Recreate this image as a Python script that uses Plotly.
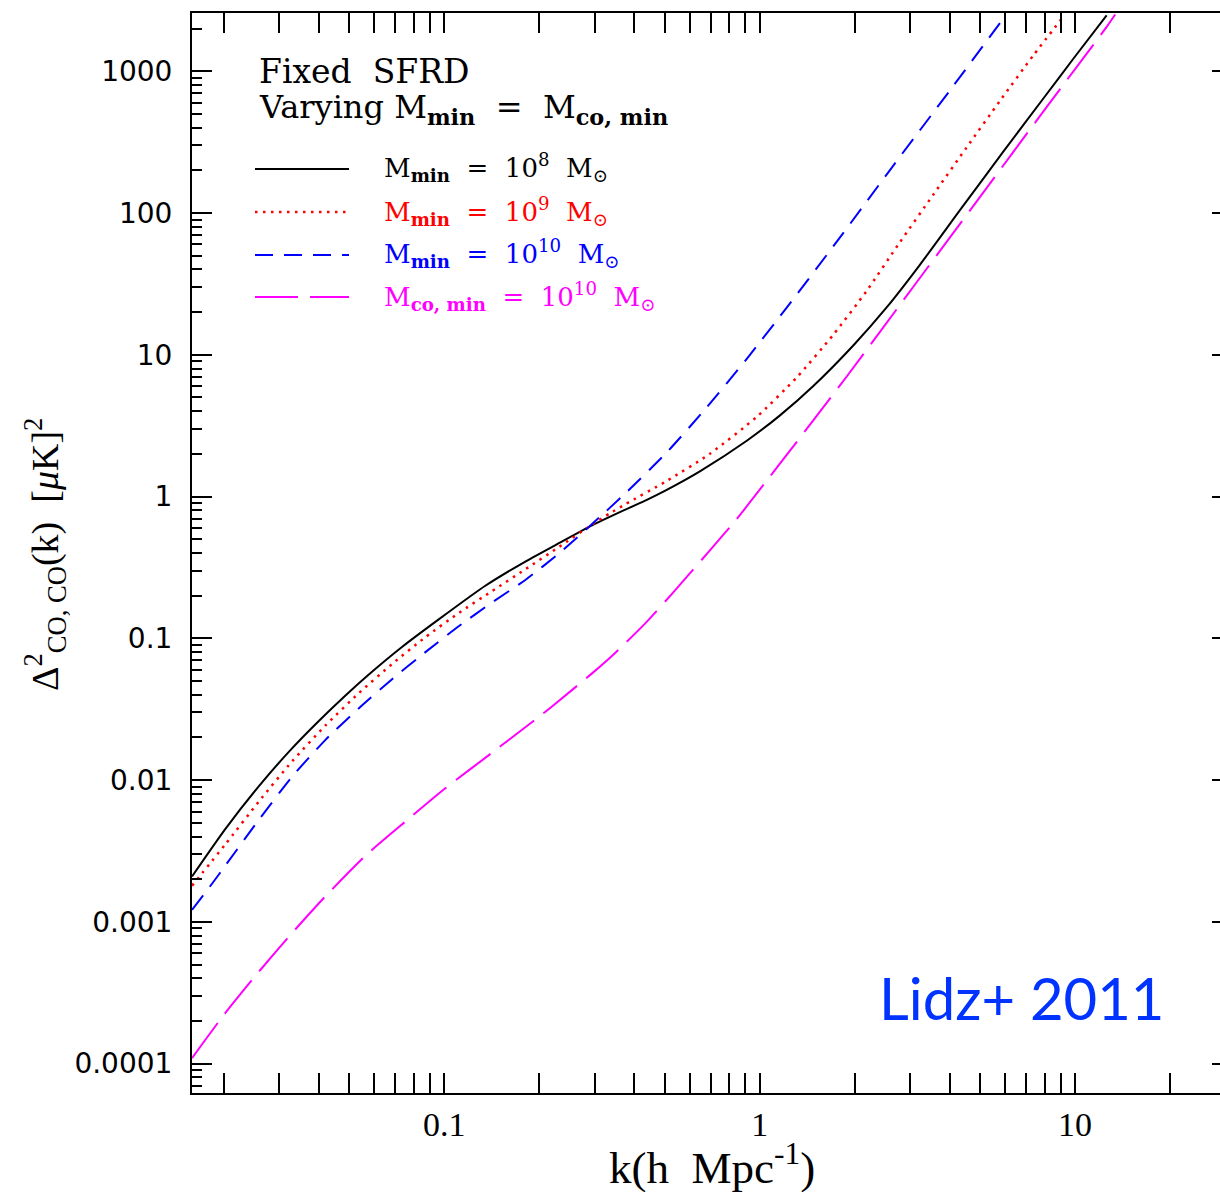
import plotly.graph_objects as go

# CO power spectrum, fixed SFRD, varying minimum host-halo mass
k_m8 = [0.01585, 0.0202, 0.0258, 0.0324, 0.0400, 0.0485, 0.0575, 0.0734, 0.0960, 0.1349,
        0.1807, 0.2307, 0.294, 0.375, 0.4385, 0.502, 0.646, 0.910, 1.157, 1.479, 1.98,
        2.53, 3.22, 4.32, 5.92, 7.93, 9.87, 12.59]
p_m8 = [0.00209, 0.00451, 0.00904, 0.01614, 0.02612, 0.03936, 0.05534, 0.0869, 0.1361, 0.2350,
        0.3483, 0.4688, 0.6266, 0.8091, 0.9484, 1.102, 1.507, 2.477, 3.724, 6.026, 11.64,
        21.68, 43.15, 105.2, 271.0, 642.7, 1225, 2483]

k_m9 = [0.01585, 0.0202, 0.0258, 0.0329, 0.0420, 0.0536, 0.0683, 0.0871, 0.111, 0.1416,
        0.1807, 0.2307, 0.294, 0.335, 0.375, 0.507, 0.695, 0.978, 1.31, 1.712, 2.18,
        2.78, 3.55, 4.53, 5.78, 7.37, 9.18]
p_m9 = [0.001799, 0.003516, 0.007047, 0.01355, 0.02432, 0.04111, 0.06592, 0.1019, 0.1507, 0.2153,
        0.3069, 0.4406, 0.6339, 0.7621, 0.8831, 1.288, 2.004, 3.648, 6.918, 13.87, 28.12,
        62.09, 134.6, 290.4, 619.4, 1294, 2432]

k_m10 = [0.01585, 0.01834, 0.0202, 0.0258, 0.0329, 0.0420, 0.0536, 0.0683, 0.0871, 0.111,
         0.1416, 0.1807, 0.2307, 0.294, 0.375, 0.507, 0.679, 0.910, 1.218, 1.797, 2.652,
         4.01, 5.92]
p_m10 = [0.001216, 0.001858, 0.002489, 0.005236, 0.01057, 0.01923, 0.03214, 0.05152, 0.07998, 0.1216,
         0.1791, 0.2582, 0.3963, 0.6397, 1.054, 2.046, 4.256, 9.376, 21.53, 67.30, 216.3,
         732.8, 2350]

k_co10 = [0.01585, 0.0202, 0.0258, 0.0329, 0.0420, 0.0562, 0.0752, 0.1007, 0.1416, 0.199,
          0.219, 0.294, 0.348, 0.4335, 0.527, 0.706, 0.845, 1.157, 1.888, 3.07, 4.99,
          8.13, 12.59, 13.4]
p_co10 = [0.0001094, 0.0002275, 0.0004446, 0.0008337, 0.001517, 0.002924, 0.005093, 0.008750, 0.01560, 0.02786,
          0.03296, 0.05662, 0.07889, 0.1276, 0.2061, 0.4345, 0.6934, 1.698, 7.031, 30.20, 129.7,
          561.0, 2056, 2512]

x_tick_vals = [0.1, 1, 10]
x_tick_text = ["0.1", "1", "10"]
y_tick_vals = [1e-4, 1e-3, 1e-2, 1e-1, 1, 10, 100, 1000]
y_tick_text = ["0.0001", "0.001", "0.01", "0.1", "1", "10", "100", "1000"]

x_minor = [m * 10.0 ** e for e in range(-2, 2) for m in range(2, 10)]
y_minor = [m * 10.0 ** e for e in range(-5, 4) for m in range(2, 10)]

W, H = 1220, 1192
L, R, T, B = 192, 0, 13, 99
PW, PH = W - L - R, H - T - B


def px(x):
    return (x - L) / PW


def py(y):
    return (H - B - y) / PH


DOT = "2.5px,5.5px"
DASH = "18px,11px"
LONG = "43px,12px"

series = [
    (k_m8, p_m8, "black", None, 2),
    (k_m9, p_m9, "#FF0000", DOT, 2.5),
    (k_m10, p_m10, "#0000FF", DASH, 2),
    (k_co10, p_co10, "#FF00FF", LONG, 2),
]

fig = go.Figure()
for kx, pv, col, dash, lw in series:
    line = dict(color=col, width=lw, shape="spline", smoothing=0.6)
    if dash:
        line["dash"] = dash
    fig.add_trace(go.Scatter(x=kx, y=pv, mode="lines", line=line,
                             showlegend=False, hoverinfo="skip"))

# carrier for the right-hand tick axis
fig.add_trace(go.Scatter(x=[k_m8[0]], y=[p_m8[0]], yaxis="y2", mode="markers",
                         marker=dict(opacity=0), showlegend=False, hoverinfo="skip"))

tick_font_y = dict(family="DejaVu Sans", size=28, color="black")
tick_font_x = dict(family="Liberation Serif", size=34, color="black")

fig.update_layout(
    width=W, height=H,
    margin=dict(l=L, r=R, t=T, b=B, pad=0),
    paper_bgcolor="white", plot_bgcolor="white",
    xaxis=dict(
        type="log", range=[-1.800, 1.4594],
        showline=True, linecolor="black", linewidth=2, mirror="allticks",
        ticks="inside", ticklen=20, tickwidth=2, tickcolor="black",
        tickmode="array", tickvals=x_tick_vals, ticktext=x_tick_text,
        tickfont=tick_font_x, ticklabelstandoff=0,
        minor=dict(ticks="inside", ticklen=10, tickwidth=2, tickcolor="black",
                   tickmode="array", tickvals=x_minor, showgrid=False),
        showgrid=False, zeroline=False,
    ),
    yaxis=dict(
        type="log", range=[-4.207, 3.411],
        showline=True, linecolor="black", linewidth=2, mirror=False,
        ticks="inside", ticklen=20, tickwidth=2, tickcolor="black",
        tickmode="array", tickvals=y_tick_vals, ticktext=y_tick_text,
        tickfont=tick_font_y, ticklabelstandoff=12,
        minor=dict(ticks="inside", ticklen=10, tickwidth=2, tickcolor="black",
                   tickmode="array", tickvals=y_minor, showgrid=False),
        showgrid=False, zeroline=False,
    ),
    yaxis2=dict(
        type="log", range=[-4.207, 3.411], overlaying="y", side="right",
        showline=False, ticks="inside", ticklen=8, tickwidth=2, tickcolor="black",
        tickmode="array", tickvals=y_tick_vals, showticklabels=False,
        showgrid=False, zeroline=False,
    ),
)

serif = "DejaVu Serif"
ann = []
sp = "\u00a0"

# header lines
ann.append(dict(text="Fixed" + sp * 2 + "SFRD", x=px(257), y=py(72), xanchor="left",
                yanchor="middle", font=dict(family=serif, size=33, color="black")))
ann.append(dict(text="Varying" + sp + "M<sub><b>min</b></sub>" + sp * 2 + "=" + sp * 2
                + "M<sub><b>co," + sp + "min</b></sub>",
                x=px(257), y=py(109), xanchor="left", yanchor="middle",
                font=dict(family=serif, size=32, color="black")))

# key entries
key_rows = [
    (169, "black", None, "M<sub><b>min</b></sub>", "10<sup>8</sup>"),
    (212, "#FF0000", DOT, "M<sub><b>min</b></sub>", "10<sup>9</sup>"),
    (255, "#0000FF", DASH, "M<sub><b>min</b></sub>", "10<sup>10</sup>"),
    (297, "#FF00FF", LONG, "M<sub><b>co," + sp + "min</b></sub>", "10<sup>10</sup>"),
]
shapes = []
for yrow, col, dash, lab, val in key_rows:
    ln = dict(color=col, width=2.5 if dash == DOT else 2)
    if dash:
        ln["dash"] = dash
    shapes.append(dict(type="line", xref="paper", yref="paper", x0=px(255), x1=px(349),
                       y0=py(yrow), y1=py(yrow), line=ln))
    ann.append(dict(text=lab + sp * 2 + "=" + sp * 2 + val + sp * 2 + "M<sub>\u2299</sub>",
                    x=px(382), y=py(yrow - 1), xanchor="left", yanchor="middle",
                    font=dict(family=serif, size=26, color=col)))

# axis titles
ann.append(dict(text="k(h" + sp * 2 + "Mpc<sup>-1</sup>)", x=px(712), y=py(1164),
                xanchor="center", yanchor="middle",
                font=dict(family="Liberation Serif", size=45, color="black")))
ann.append(dict(text="\u0394<sup>2</sup><sub>CO," + sp + "CO</sub>(k)" + sp * 2
                + "[<i>\u03bc</i>K]<sup>2</sup>",
                x=px(45), y=py(555), xanchor="center", yanchor="middle", textangle=-90,
                font=dict(family="Liberation Serif", size=38, color="black")))

# citation tag
ann.append(dict(text="Lidz+ 2011", x=px(1021), y=py(998), xanchor="center", yanchor="middle",
                font=dict(family="Lato", size=58, color="#0033FF")))

for a in ann:
    a.setdefault("xref", "paper")
    a.setdefault("yref", "paper")
    a["showarrow"] = False

fig.update_layout(annotations=ann, shapes=shapes)

fig.write_html("out.html")
